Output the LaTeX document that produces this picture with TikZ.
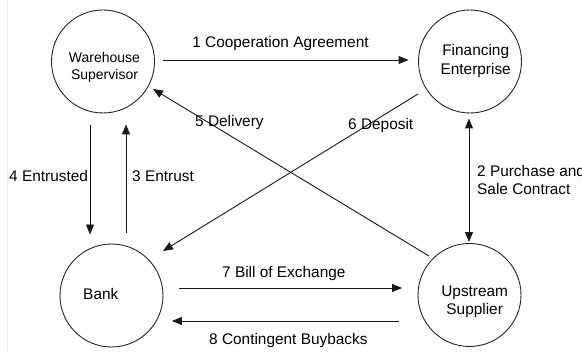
\documentclass[tikz,border=0pt]{standalone}
\usepackage{fontspec}
\setmainfont{Liberation Sans}
\usetikzlibrary{arrows.meta}
\begin{document}
\begin{tikzpicture}[x=1pt,y=-1pt,
  ent/.style={circle,draw=black!85,line width=0.9pt,minimum size=103pt,inner sep=0pt},
  ntext/.style={align=center,font=\fontsize{15.4}{18.5}\selectfont,inner sep=0pt},
  lbl/.style={anchor=base west,font=\fontsize{15.4}{18.5}\selectfont,inner sep=0pt},
  arr/.style={draw=black!90,line width=0.9pt,-{Triangle[length=10pt,width=8pt]}},
  ln/.style={draw=black!90,line width=0.9pt}]
\useasboundingbox (0,0) rectangle (582,352);
\fill[white] (0,0) rectangle (582,352);
\draw[black!8,line width=0.8pt] (7,0) -- (7,352);
% entities
\node[ent] (ws) at (103,61.5) {};
\node[ent] (fe) at (470,61.5) {};
\node[ent] (bk) at (111.5,295.5) {};
\node[ent] (us) at (469.5,295) {};
% entity texts
\node[ntext,font=\fontsize{14}{17}\selectfont] (wst) at (104.5,67) {Warehouse\\Supervisor};
\node[ntext] (fet) at (475.7,61) {Financing\\Enterprise};
\node[ntext] (bkt) at (100.8,294) {Bank};
\node[ntext] (ust) at (474.7,302) {Upstream\\Supplier};
% 1
\draw[arr,shorten <=8.5pt,shorten >=9.5pt] ([yshift=1.5pt]ws.east) -- ([yshift=1.5pt]fe.west);
\node[lbl,anchor=base] (l1) at (280.5,48) {1 Cooperation Agreement};
% 2
\draw[ln,{Triangle[length=10pt,width=8pt]}-{Triangle[length=10pt,width=8pt]},shorten <=5pt,shorten >=1pt] ([xshift=-1pt]fe.south) -- ([xshift=-0.5pt]us.north);
\node[lbl,anchor=north west,align=left,font=\fontsize{15.4}{18}\selectfont] (l2) at (477,165) {2 Purchase and\\Sale Contract};
% 4 and 3
\draw[arr] ([xshift=-13pt,yshift=-12pt]ws.south) -- ([xshift=-21.5pt,yshift=9pt]bk.north);
\node[lbl] (l4) at (9,182) {4 Entrusted};
\draw[arr] ([xshift=14.5pt,yshift=11pt]bk.north) -- ([xshift=23pt,yshift=-11pt]ws.south);
\node[lbl] (l3) at (132,182) {3 Entrust};
% 5
\coordinate (t5) at ([shift={(-40.5,-39)}]us.center);
\coordinate (h5) at ([shift={(50,27.5)}]ws.center);
\draw[arr] (t5) -- (h5);
\node[lbl] (l5) at (195,127) {5 Delivery};
% 6
\coordinate (t6) at ([shift={(-52,32.5)}]fe.center);
\coordinate (h6) at ([shift={(51.5,-44.5)}]bk.center);
\draw[arr] (t6) -- (h6);
\node[lbl] (l6) at (348,130) {6 Deposit};
% 7
\draw[arr,shorten <=16pt,shorten >=15.5pt] ([yshift=7.5pt]bk.east) -- ([yshift=7pt]us.west);
\node[lbl] (l7) at (222,278) {7 Bill of Exchange};
% 8
\draw[arr,shorten <=18.5pt,shorten >=8.5pt] ([yshift=-26pt]us.west) -- ([yshift=-25.5pt]bk.east);
\node[lbl] (l8) at (209,345) {8 Contingent Buybacks};
\end{tikzpicture}
\end{document}
